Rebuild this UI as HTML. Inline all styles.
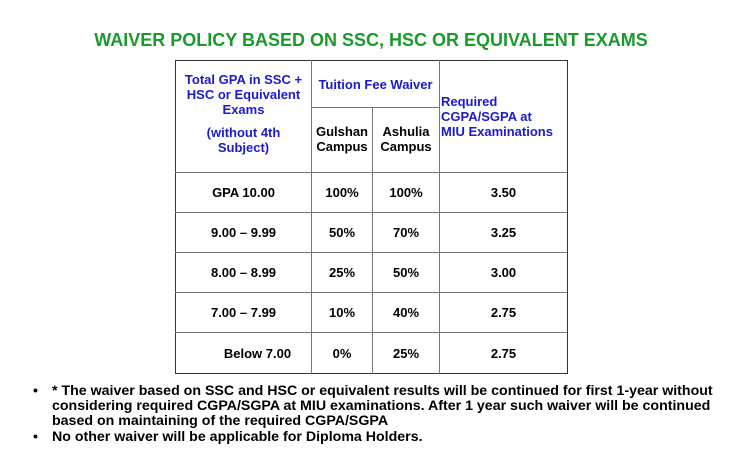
<!DOCTYPE html>
<html><head><meta charset="utf-8"><style>
body{margin:0;width:731px;height:464px;background:#fff;position:relative;overflow:hidden;font-family:"Liberation Sans",sans-serif;font-weight:bold}
.t{position:absolute;font-size:18px;color:#1a9a2a;left:0;width:742px;text-align:center;top:30px}
.hl{position:absolute;background:#777;height:1px}
.vl{position:absolute;background:#777;width:1px}
.c{position:absolute;text-align:center;font-size:13px;color:#000;display:flex;align-items:center;justify-content:center;line-height:15px}
.m{position:absolute;font-size:13px;line-height:15px;color:#000;box-sizing:border-box}
.b{color:#1a1ad0}
.bul{position:absolute;font-size:14.2px;line-height:15px;color:#000;white-space:nowrap}
</style></head><body>
<div class="t">WAIVER POLICY BASED ON SSC, HSC OR EQUIVALENT EXAMS</div>
<div>
<div class="hl" style="left:175px;top:60px;width:392px;background:#333"></div>
<div class="hl" style="left:175px;top:373px;width:392px;background:#333"></div>
<div class="vl" style="left:175px;top:60px;height:314px;background:#333"></div>
<div class="vl" style="left:567px;top:60px;height:314px;background:#333"></div>
<div class="vl" style="left:311px;top:60px;height:314px"></div>
<div class="vl" style="left:372px;top:107px;height:267px"></div>
<div class="vl" style="left:439px;top:60px;height:314px"></div>
<div class="hl" style="left:311px;top:107px;width:128px"></div>
<div class="hl" style="left:175px;top:172px;width:392px"></div>
<div class="hl" style="left:175px;top:212px;width:392px"></div>
<div class="hl" style="left:175px;top:252px;width:392px"></div>
<div class="hl" style="left:175px;top:292px;width:392px"></div>
<div class="hl" style="left:175px;top:332px;width:392px"></div>
<div class="m b" style="left:176px;top:72px;width:135px;text-align:center;white-space:nowrap">Total GPA in SSC +<br>HSC or Equivalent<br>Exams<div style="height:8px"></div>(without 4th<br>Subject)</div>
<div class="c b" style="left:312px;top:61px;width:127px;height:46px;white-space:nowrap">Tuition Fee Waiver</div>
<div class="m" style="left:312px;top:124px;width:60px;text-align:center">Gulshan<br>Campus</div>
<div class="m" style="left:373px;top:124px;width:66px;text-align:center">Ashulia<br>Campus</div>
<div class="m b" style="left:441px;top:94px;width:127px;text-align:left;white-space:nowrap">Required<br>CGPA/SGPA at<br>MIU Examinations</div>
<div class="c" style="left:176px;top:173px;width:135px;height:39px">GPA 10.00</div>
<div class="c" style="left:312px;top:173px;width:60px;height:39px">100%</div>
<div class="c" style="left:373px;top:173px;width:66px;height:39px">100%</div>
<div class="c" style="left:440px;top:173px;width:127px;height:39px">3.50</div>
<div class="c" style="left:176px;top:213px;width:135px;height:39px">9.00 – 9.99</div>
<div class="c" style="left:312px;top:213px;width:60px;height:39px">50%</div>
<div class="c" style="left:373px;top:213px;width:66px;height:39px">70%</div>
<div class="c" style="left:440px;top:213px;width:127px;height:39px">3.25</div>
<div class="c" style="left:176px;top:253px;width:135px;height:39px">8.00 – 8.99</div>
<div class="c" style="left:312px;top:253px;width:60px;height:39px">25%</div>
<div class="c" style="left:373px;top:253px;width:66px;height:39px">50%</div>
<div class="c" style="left:440px;top:253px;width:127px;height:39px">3.00</div>
<div class="c" style="left:176px;top:293px;width:135px;height:39px">7.00 – 7.99</div>
<div class="c" style="left:312px;top:293px;width:60px;height:39px">10%</div>
<div class="c" style="left:373px;top:293px;width:66px;height:39px">40%</div>
<div class="c" style="left:440px;top:293px;width:127px;height:39px">2.75</div>
<div class="c" style="left:190px;top:333px;width:135px;height:40px">Below 7.00</div>
<div class="c" style="left:312px;top:333px;width:60px;height:40px">0%</div>
<div class="c" style="left:373px;top:333px;width:66px;height:40px">25%</div>
<div class="c" style="left:440px;top:333px;width:127px;height:40px">2.75</div>
</div>
<div>
<div class="bul" style="left:33px;top:384px">•</div>
<div class="bul" style="left:52px;top:384px">* The waiver based on SSC and HSC or equivalent results will be continued for first 1-year without<br>considering required CGPA/SGPA at MIU examinations. After 1 year such waiver will be continued<br>based on maintaining of the required CGPA/SGPA</div>
<div class="bul" style="left:33px;top:430px">•</div>
<div class="bul" style="left:52px;top:430px">No other waiver will be applicable for Diploma Holders.</div>
</div>
</body></html>
